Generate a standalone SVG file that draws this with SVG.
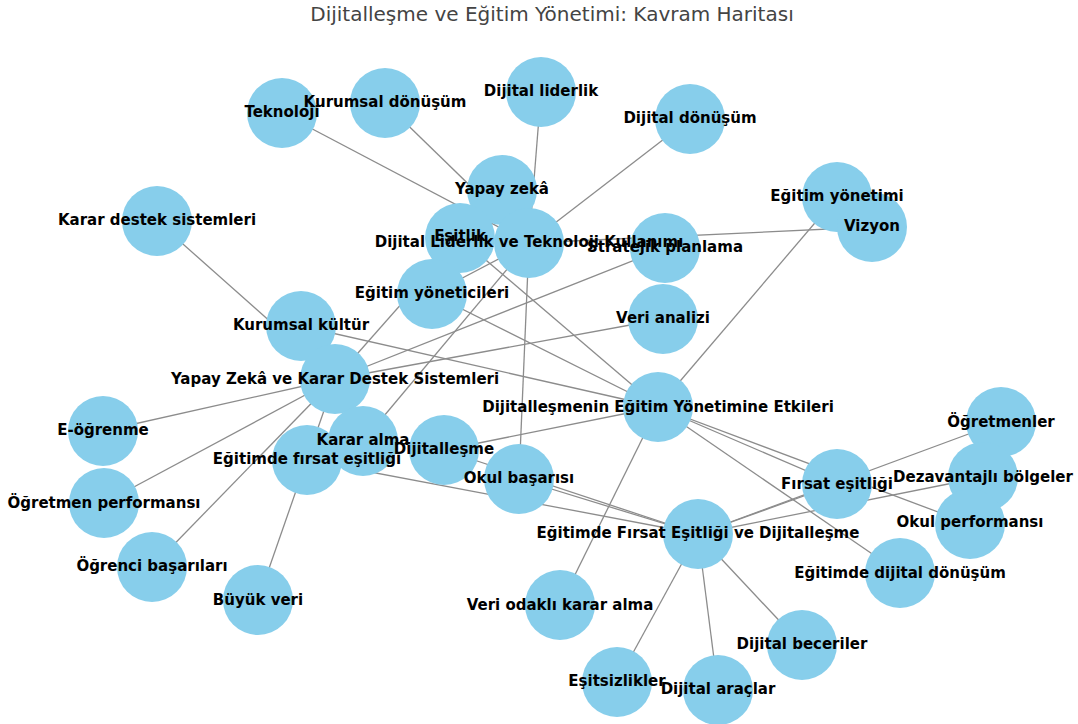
<svg xmlns="http://www.w3.org/2000/svg" width="1078" height="724" viewBox="0 0 1078 724">
<style>
.e{stroke:#8c8c8c;stroke-width:1.3;fill:none}
.node circle{fill:#87ceeb}
.lbl{font-family:"DejaVu Sans","Liberation Sans",sans-serif;font-weight:bold;font-size:15px;fill:#000;text-anchor:middle;dominant-baseline:central}
.title{font-family:"DejaVu Sans","Liberation Sans",sans-serif;font-size:20px;fill:#444;text-anchor:middle;dominant-baseline:central}
</style>
<rect width="1078" height="724" fill="#fff"/>
<text class="title" x="552" y="14">Dijitalleşme ve Eğitim Yönetimi: Kavram Haritası</text>
<g id="edges">
<line class="e" x1="282" y1="113" x2="529" y2="243"/>
<line class="e" x1="385" y1="103" x2="529" y2="243"/>
<line class="e" x1="541" y1="92" x2="529" y2="243"/>
<line class="e" x1="690" y1="119" x2="529" y2="243"/>
<line class="e" x1="432" y1="294" x2="529" y2="243"/>
<line class="e" x1="363" y1="441" x2="529" y2="243"/>
<line class="e" x1="519" y1="479" x2="529" y2="243"/>
<line class="e" x1="872" y1="227" x2="529" y2="243"/>
<line class="e" x1="502" y1="190" x2="335" y2="379"/>
<line class="e" x1="157" y1="221" x2="335" y2="379"/>
<line class="e" x1="103" y1="431" x2="335" y2="379"/>
<line class="e" x1="104" y1="503" x2="335" y2="379"/>
<line class="e" x1="152" y1="567" x2="335" y2="379"/>
<line class="e" x1="258" y1="600" x2="335" y2="379"/>
<line class="e" x1="665" y1="248" x2="335" y2="379"/>
<line class="e" x1="663" y1="319" x2="335" y2="379"/>
<line class="e" x1="301" y1="326" x2="658" y2="407"/>
<line class="e" x1="432" y1="294" x2="658" y2="407"/>
<line class="e" x1="460" y1="238" x2="658" y2="407"/>
<line class="e" x1="444" y1="450" x2="658" y2="407"/>
<line class="e" x1="560" y1="605" x2="658" y2="407"/>
<line class="e" x1="837" y1="484" x2="658" y2="407"/>
<line class="e" x1="970" y1="524" x2="658" y2="407"/>
<line class="e" x1="900" y1="573" x2="658" y2="407"/>
<line class="e" x1="837" y1="197" x2="658" y2="407"/>
<line class="e" x1="307" y1="460" x2="698" y2="534"/>
<line class="e" x1="444" y1="450" x2="698" y2="534"/>
<line class="e" x1="519" y1="479" x2="698" y2="534"/>
<line class="e" x1="837" y1="484" x2="698" y2="534"/>
<line class="e" x1="1001" y1="422" x2="698" y2="534"/>
<line class="e" x1="983" y1="477" x2="698" y2="534"/>
<line class="e" x1="617" y1="682" x2="698" y2="534"/>
<line class="e" x1="718" y1="690" x2="698" y2="534"/>
<line class="e" x1="802" y1="645" x2="698" y2="534"/>
</g>
<g id="nodes">
<g id="n-teknoloji" class="node"><circle cx="282" cy="113" r="35"/></g>
<g id="n-kurumsal-donusum" class="node"><circle cx="385" cy="103" r="35"/></g>
<g id="n-dijital-liderlik" class="node"><circle cx="541" cy="92" r="35"/></g>
<g id="n-dijital-donusum" class="node"><circle cx="690" cy="119" r="35"/></g>
<g id="n-yapay-zeka" class="node"><circle cx="502" cy="190" r="35"/></g>
<g id="n-esitlik" class="node"><circle cx="460" cy="238" r="35"/></g>
<g id="n-dltk" class="node"><circle cx="529" cy="243" r="35"/></g>
<g id="n-stratejik-planlama" class="node"><circle cx="665" cy="248" r="35"/></g>
<g id="n-egitim-yonetimi" class="node"><circle cx="837" cy="197" r="35"/></g>
<g id="n-vizyon" class="node"><circle cx="872" cy="227" r="35"/></g>
<g id="n-karar-destek" class="node"><circle cx="157" cy="221" r="35"/></g>
<g id="n-egitim-yoneticileri" class="node"><circle cx="432" cy="294" r="35"/></g>
<g id="n-veri-analizi" class="node"><circle cx="663" cy="319" r="35"/></g>
<g id="n-kurumsal-kultur" class="node"><circle cx="301" cy="326" r="35"/></g>
<g id="n-yzkds" class="node"><circle cx="335" cy="379" r="35"/></g>
<g id="n-e-ogrenme" class="node"><circle cx="103" cy="431" r="35"/></g>
<g id="n-ogretmen-performansi" class="node"><circle cx="104" cy="503" r="35"/></g>
<g id="n-ogrenci-basarilari" class="node"><circle cx="152" cy="567" r="35"/></g>
<g id="n-buyuk-veri" class="node"><circle cx="258" cy="600" r="35"/></g>
<g id="n-egitimde-firsat-esitligi" class="node"><circle cx="307" cy="460" r="35"/></g>
<g id="n-karar-alma" class="node"><circle cx="363" cy="441" r="35"/></g>
<g id="n-dijitallesme" class="node"><circle cx="444" cy="450" r="35"/></g>
<g id="n-okul-basarisi" class="node"><circle cx="519" cy="479" r="35"/></g>
<g id="n-deye" class="node"><circle cx="658" cy="407" r="35"/></g>
<g id="n-firsat-esitligi" class="node"><circle cx="837" cy="484" r="35"/></g>
<g id="n-ogretmenler" class="node"><circle cx="1001" cy="422" r="35"/></g>
<g id="n-dezavantajli" class="node"><circle cx="983" cy="477" r="35"/></g>
<g id="n-okul-performansi" class="node"><circle cx="970" cy="524" r="35"/></g>
<g id="n-egitimde-dijital-donusum" class="node"><circle cx="900" cy="573" r="35"/></g>
<g id="n-efed" class="node"><circle cx="698" cy="534" r="35"/></g>
<g id="n-veri-odakli" class="node"><circle cx="560" cy="605" r="35"/></g>
<g id="n-esitsizlikler" class="node"><circle cx="617" cy="682" r="35"/></g>
<g id="n-dijital-araclar" class="node"><circle cx="718" cy="690" r="35"/></g>
<g id="n-dijital-beceriler" class="node"><circle cx="802" cy="645" r="35"/></g>
</g>
<g id="labels">
<text class="lbl" x="282" y="112">Teknoloji</text>
<text class="lbl" x="385" y="102">Kurumsal dönüşüm</text>
<text class="lbl" x="541" y="91">Dijital liderlik</text>
<text class="lbl" x="690" y="118">Dijital dönüşüm</text>
<text class="lbl" x="502" y="189">Yapay zekâ</text>
<text class="lbl" x="460" y="236">Eşitlik</text>
<text class="lbl" x="529" y="242">Dijital Liderlik ve Teknoloji Kullanımı</text>
<text class="lbl" x="665" y="247">Stratejik planlama</text>
<text class="lbl" x="837" y="196">Eğitim yönetimi</text>
<text class="lbl" x="872" y="226">Vizyon</text>
<text class="lbl" x="157" y="220">Karar destek sistemleri</text>
<text class="lbl" x="432" y="293">Eğitim yöneticileri</text>
<text class="lbl" x="663" y="318">Veri analizi</text>
<text class="lbl" x="301" y="325">Kurumsal kültür</text>
<text class="lbl" x="335" y="379">Yapay Zekâ ve Karar Destek Sistemleri</text>
<text class="lbl" x="103" y="430">E-öğrenme</text>
<text class="lbl" x="104" y="503">Öğretmen performansı</text>
<text class="lbl" x="152" y="566">Öğrenci başarıları</text>
<text class="lbl" x="258" y="600">Büyük veri</text>
<text class="lbl" x="307" y="459">Eğitimde fırsat eşitliği</text>
<text class="lbl" x="363" y="440">Karar alma</text>
<text class="lbl" x="444" y="449">Dijitalleşme</text>
<text class="lbl" x="519" y="478">Okul başarısı</text>
<text class="lbl" x="658" y="407">Dijitalleşmenin Eğitim Yönetimine Etkileri</text>
<text class="lbl" x="837" y="484">Fırsat eşitliği</text>
<text class="lbl" x="1001" y="422">Öğretmenler</text>
<text class="lbl" x="983" y="477">Dezavantajlı bölgeler</text>
<text class="lbl" x="970" y="522">Okul performansı</text>
<text class="lbl" x="900" y="573">Eğitimde dijital dönüşüm</text>
<text class="lbl" x="698" y="533">Eğitimde Fırsat Eşitliği ve Dijitalleşme</text>
<text class="lbl" x="560" y="605">Veri odaklı karar alma</text>
<text class="lbl" x="617" y="681">Eşitsizlikler</text>
<text class="lbl" x="718" y="689">Dijital araçlar</text>
<text class="lbl" x="802" y="644">Dijital beceriler</text>
</g>
</svg>
